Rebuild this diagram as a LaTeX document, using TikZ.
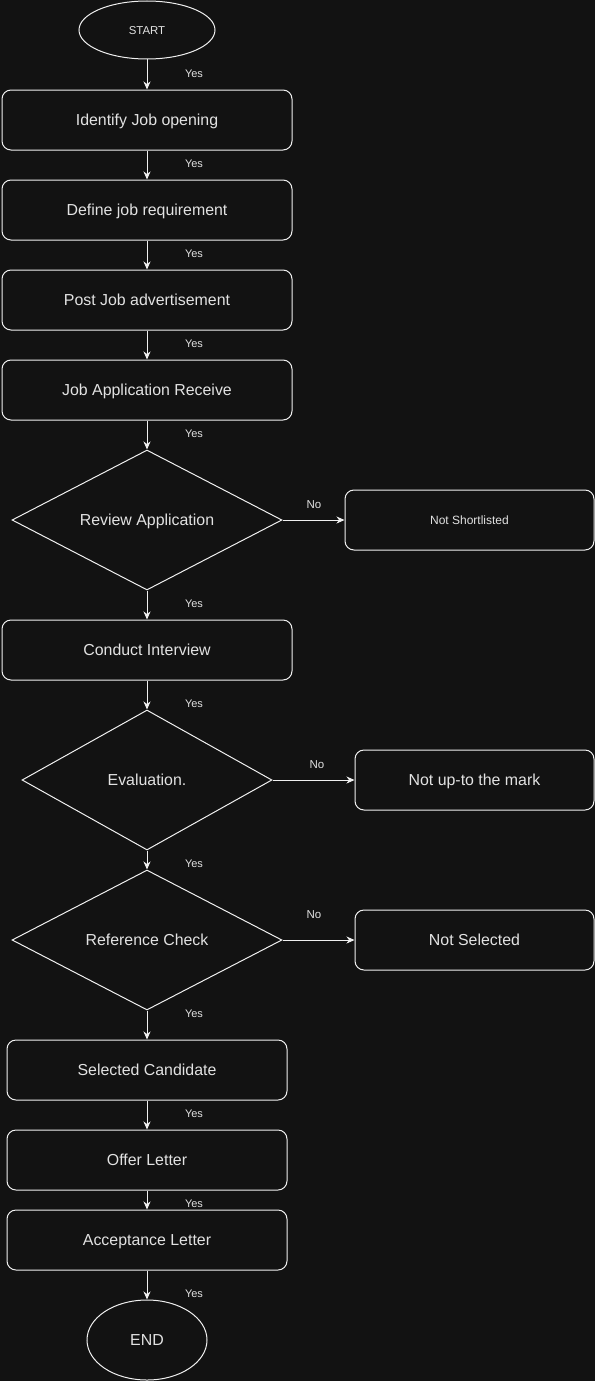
\documentclass[tikz,border=0pt]{standalone}
\usepackage{fontspec}
\setmainfont{Liberation Sans}
\usetikzlibrary{shapes.geometric,arrows.meta}

\definecolor{bgdark}{HTML}{121212}
\definecolor{linegray}{HTML}{F0F0F0}
\definecolor{textgray}{HTML}{E2E2E2}

\tikzset{
  bigtext/.style={font=\fontsize{15.9}{19}\selectfont, text height=11.4pt, text depth=0pt},
  procbox/.style={draw=linegray, line width=1pt, rounded corners=9pt,
    minimum width=290pt, minimum height=60pt, inner sep=0pt, bigtext},
  sidebox/.style={procbox, minimum width=239pt},
  decision/.style={diamond, shape aspect=2, draw=linegray, line width=1pt, inner sep=0pt,
    minimum width=270pt, minimum height=140pt, bigtext},
  terminal/.style={ellipse, draw=linegray, line width=1pt, inner sep=0pt},
  flow/.style={draw=linegray, line width=1pt,
    -{Stealth[length=8pt, width=7pt, inset=2.5pt]}},
  lbl/.style={font=\fontsize{11}{13}\selectfont, text height=7.9pt, text depth=0pt}
}

\begin{document}
\begin{tikzpicture}[x=1pt, y=-1pt, every node/.style={text=textgray}]
  \fill[bgdark] (0,0) rectangle (595,1381);
  \useasboundingbox (0,0) rectangle (595,1381);

  \node[terminal, minimum width=136pt, minimum height=58pt,
        font=\fontsize{11.4}{13}\selectfont, text height=8.2pt, text depth=0pt]
        (start) at (147,30) {START};
  \node[procbox] (identify)  at (147,120) {Identify Job opening};
  \node[procbox] (define)    at (147,210) {Define job requirement};
  \node[procbox] (post)      at (147,300) {Post Job advertisement};
  \node[procbox] (receive)   at (147,390) {Job Application Receive};
  \node[decision] (review)   at (147,520) {Review Application};
  \node[sidebox, minimum width=249pt, font=\fontsize{12}{14}\selectfont, text height=8.6pt]
        (shortlist) at (469.5,520) {Not Shortlisted};
  \node[procbox] (interview) at (147,650) {Conduct Interview};
  \node[decision, minimum width=250pt] (evaluate) at (147,780) {Evaluation.};
  \node[sidebox] (belowmark) at (474.5,780) {Not up-to the mark};
  \node[decision] (refcheck) at (147,940) {Reference Check};
  \node[sidebox] (notselected) at (474.5,940) {Not Selected};
  \node[procbox, minimum width=280pt] (selected) at (147,1070) {Selected Candidate};
  \node[procbox, minimum width=280pt] (offer)    at (147,1160) {Offer Letter};
  \node[procbox, minimum width=280pt] (accept)   at (147,1240) {Acceptance Letter};
  \node[terminal, minimum width=120pt, minimum height=80pt, bigtext]
        (finish) at (147,1340) {END};

  % main line
  \foreach \a/\b in {start/identify, identify/define, define/post, post/receive,
      receive/review, review/interview, interview/evaluate, evaluate/refcheck,
      refcheck/selected, selected/offer, offer/accept, accept/finish}
    \draw[flow] (\a) -- (\b);

  % rejections
  \draw[flow] (review) -- (shortlist);
  \draw[flow] (evaluate) -- (belowmark);
  \draw[flow] (refcheck) -- (notselected);

  \foreach \y [count=\i] in {74,164,254,344,434,604,704,864,1014,1114,1204,1294}
    \node[lbl] (yes\i) at (194,\y) {Yes};
  \node[lbl, font=\fontsize{11.5}{13}\selectfont] (no1) at (314,505) {No};
  \node[lbl, font=\fontsize{11.5}{13}\selectfont] (no2) at (317,765) {No};
  \node[lbl, font=\fontsize{11.5}{13}\selectfont] (no3) at (314,915) {No};
\end{tikzpicture}
\end{document}
